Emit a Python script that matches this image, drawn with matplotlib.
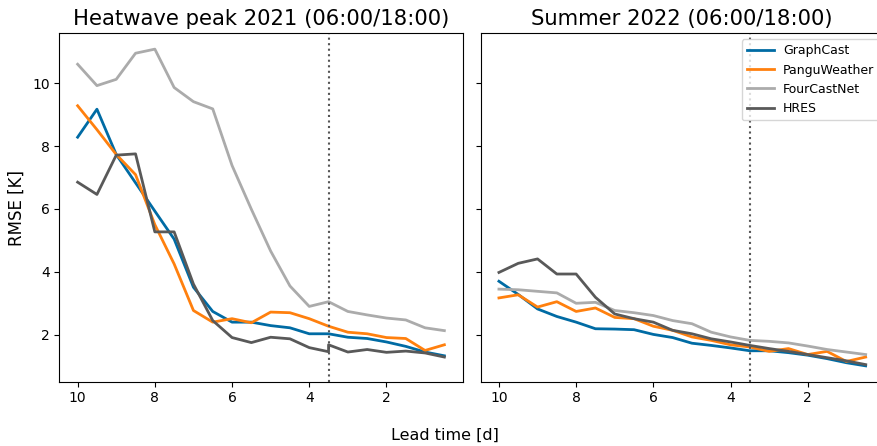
import matplotlib
matplotlib.use("Agg")
import matplotlib.pyplot as plt

lead_time = [10, 9.5, 9, 8.5, 8, 7.5, 7, 6.5, 6, 5.5, 5, 4.5, 4, 3.5, 3.5,
             3, 2.5, 2, 1.5, 1, 0.5]

titles = ["Heatwave peak 2021 (06:00/18:00)", "Summer 2022 (06:00/18:00)"]
models = ["GraphCast", "PanguWeather", "FourCastNet", "HRES"]
colors = ["#006BA4", "#FF800E", "#ABABAB", "#595959"]

# Heatwave peak 2021
hw_graphcast = [8.28, 9.17, 7.73, 6.83, 5.93, 5.04, 3.51, 2.74, 2.40, 2.40, 2.29,
                2.22, 2.03, 2.03, 2.03, 1.92, 1.88, 1.77, 1.63, 1.45, 1.33]
hw_pangu = [9.28, 8.52, 7.73, 7.09, 5.50, 4.25, 2.77, 2.40, 2.51, 2.38, 2.72,
            2.70, 2.51, 2.27, 2.27, 2.08, 2.03, 1.91, 1.88, 1.50, 1.68]
hw_fourcastnet = [10.60, 9.92, 10.12, 10.95, 11.08, 9.86, 9.41, 9.18, 7.38, 5.99,
                  4.66, 3.55, 2.90, 3.05, 3.05, 2.74, 2.63, 2.53, 2.47, 2.22, 2.13]
hw_hres = [6.85, 6.46, 7.71, 7.75, 5.27, 5.27, 3.61, 2.45, 1.91, 1.75, 1.92,
           1.87, 1.59, 1.46, 1.68, 1.45, 1.53, 1.44, 1.48, 1.42, 1.29]

# Summer 2022
su_graphcast = [3.70, 3.28, 2.82, 2.58, 2.40, 2.19, 2.18, 2.16, 2.01, 1.91, 1.73,
                1.66, 1.58, 1.49, 1.49, 1.49, 1.43, 1.35, 1.24, 1.11, 1.01]
su_pangu = [3.17, 3.27, 2.88, 3.05, 2.74, 2.85, 2.55, 2.51, 2.27, 2.14, 1.93,
            1.82, 1.68, 1.61, 1.61, 1.47, 1.56, 1.37, 1.47, 1.15, 1.29]
su_fourcastnet = [3.45, 3.43, 3.38, 3.33, 3.00, 3.03, 2.77, 2.70, 2.61, 2.45, 2.35,
                  2.08, 1.93, 1.82, 1.82, 1.79, 1.74, 1.64, 1.53, 1.45, 1.37]
su_hres = [3.98, 4.27, 4.41, 3.93, 3.93, 3.19, 2.66, 2.51, 2.40, 2.14, 2.03,
           1.87, 1.77, 1.66, 1.66, 1.56, 1.47, 1.37, 1.27, 1.17, 1.05]

panels = [
    [hw_graphcast, hw_pangu, hw_fourcastnet, hw_hres],
    [su_graphcast, su_pangu, su_fourcastnet, su_hres],
]

vline_at = 3.5
xticks = [10, 8, 6, 4, 2]
yticks = [2, 4, 6, 8, 10]

W, H = 877, 446
fig = plt.figure(figsize=(W / 100, H / 100), dpi=100)
bottom = 1 - 381.7 / H
height = (381.7 - 33.3) / H
width = 403.4 / W
ax1 = fig.add_axes([59.3 / W, bottom, width, height])
ax2 = fig.add_axes([480.6 / W, bottom, width, height], sharey=ax1, sharex=ax1)

for ax, series, title in zip([ax1, ax2], panels, titles):
    for name, vals, c in zip(models, series, colors):
        ax.plot(lead_time, vals, color=c, lw=2, label=name)
    ax.axvline(vline_at, color="#555555", ls=":", lw=1.5)
    ax.set_title(title, fontsize=15.2)
    ax.set_xticks(xticks)
    ax.set_yticks(yticks)

ax1.invert_xaxis()
plt.setp(ax2.get_yticklabels(), visible=False)

leg = ax2.legend(loc="upper left", fontsize=9, handlelength=2.2,
                 handletextpad=0.7, borderaxespad=0.0,
                 bbox_to_anchor=((741.7 - 480.6) / 403.4, 1 - 6 / 348.4))

fig.text(17 / W, 1 - 208 / H, "RMSE [K]", rotation=90, ha="center", va="center", fontsize=12)
fig.text(444.5 / W, 1 - 435 / H, "Lead time [d]", ha="center", va="center", fontsize=11.5)

fig.savefig("out.png", dpi=100)
